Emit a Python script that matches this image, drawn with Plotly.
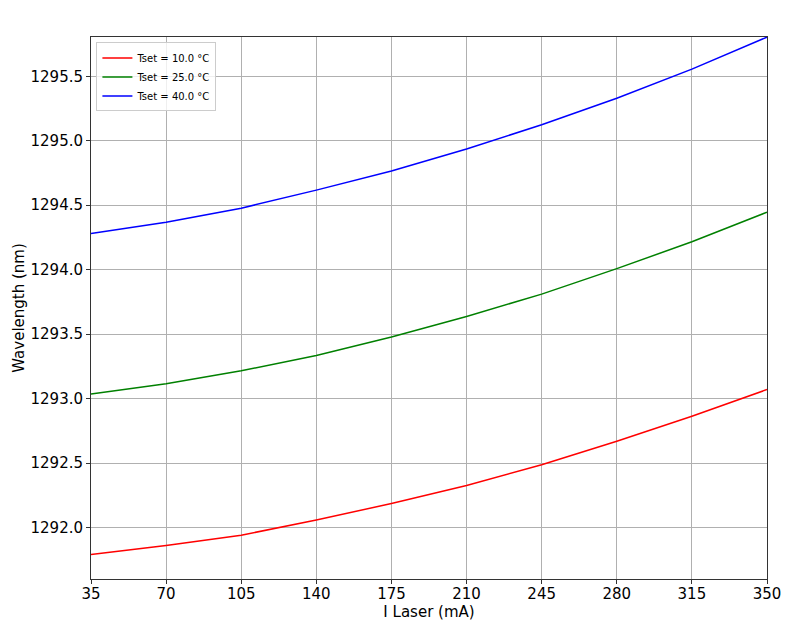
import plotly.graph_objects as go

current_ma = [35, 70, 105, 140, 175, 210, 245, 280, 315, 350]
wl_10c = [1291.79, 1291.86, 1291.94, 1292.057, 1292.186, 1292.326, 1292.486, 1292.669, 1292.863, 1293.07]
wl_25c = [1293.036, 1293.114, 1293.215, 1293.334, 1293.477, 1293.637, 1293.81, 1294.008, 1294.216, 1294.446]
wl_40c = [1294.28, 1294.368, 1294.477, 1294.617, 1294.765, 1294.936, 1295.124, 1295.33, 1295.556, 1295.804]
series_names = ["Tset = 10.0 °C", "Tset = 25.0 °C", "Tset = 40.0 °C"]
series_colors = ["red", "green", "blue"]
x_ticks = [35, 70, 105, 140, 175, 210, 245, 280, 315, 350]

fig = go.Figure()
for name, color, ys in zip(series_names, series_colors, [wl_10c, wl_25c, wl_40c]):
    fig.add_trace(go.Scatter(x=current_ma, y=ys, mode="lines", name=name,
                             line=dict(color=color, width=1.5)))

axis_common = dict(
    showline=True, linecolor="#333333", linewidth=1, mirror=True,
    showgrid=True, gridcolor="#b0b0b0", gridwidth=1,
    ticks="outside", ticklen=4, tickcolor="#333333",
    tickfont=dict(family="DejaVu Sans", size=15, color="black"),
    zeroline=False, automargin=False,
)

fig.update_layout(
    width=792, height=622,
    margin=dict(l=83, r=33, t=29, b=51),
    paper_bgcolor="white", plot_bgcolor="white",
    font=dict(family="DejaVu Sans", color="black"),
    xaxis=dict(range=[35, 350], tickvals=x_ticks, ticklabelstandoff=-3,
               title=dict(text="I Laser (mA)", font=dict(size=15), standoff=2),
               **axis_common),
    yaxis=dict(range=[1291.6, 1295.805], dtick=0.5, tick0=1292.0, tickformat=".1f",
               title=dict(text="Wavelength (nm)", font=dict(size=15), standoff=2),
               **axis_common),
    legend=dict(x=0.008, y=0.99, xanchor="left", yanchor="top",
                bgcolor="rgba(255,255,255,0.8)", bordercolor="#cccccc", borderwidth=1,
                font=dict(size=10), tracegroupgap=0, itemwidth=30),
    showlegend=True,
)

fig.write_html("out.html")
